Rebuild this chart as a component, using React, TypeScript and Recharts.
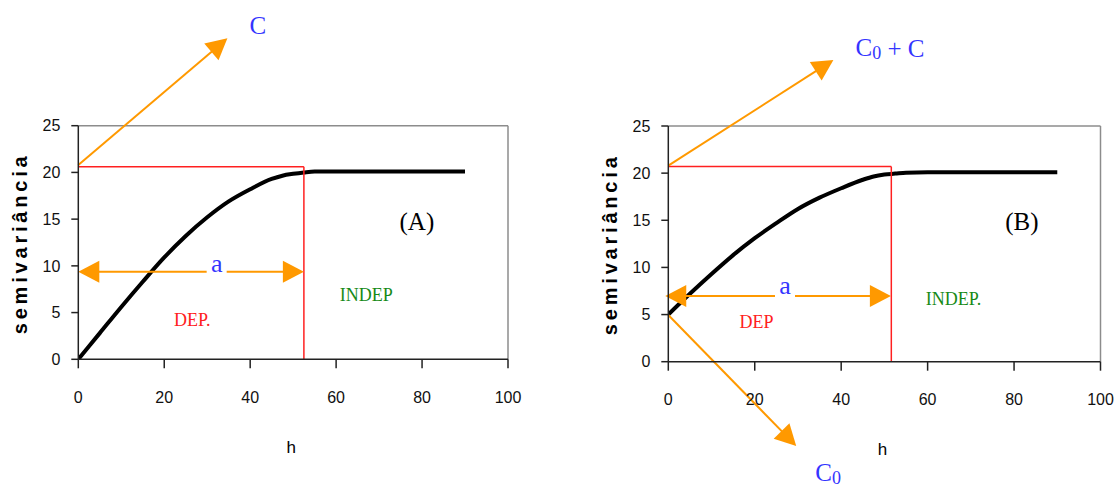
import { LineChart, Line, XAxis, YAxis, ReferenceLine, ReferenceDot } from "recharts";

// experimental semivariograms: (A) without nugget, (B) with nugget C0
const lagsA = [0, 5, 10, 15, 20, 25, 30, 35, 40, 45, 47.5, 50, 52.5, 55, 60, 70, 80, 90];
const gammaA = [0, 2.8, 5.6, 8.3, 10.9, 13.2, 15.2, 16.9, 18.2, 19.3, 19.65, 19.85, 20.0, 20.1, 20.1, 20.1, 20.1, 20.1];

const lagsB = [0, 5, 10, 15, 20, 25, 30, 35, 40, 45, 47.5, 50, 52.5, 55, 60, 70, 80, 90];
const gammaB = [5, 7.2, 9.3, 11.3, 13.1, 14.7, 16.2, 17.4, 18.4, 19.3, 19.65, 19.85, 19.95, 20.05, 20.1, 20.1, 20.1, 20.1];

const xTicks = [0, 20, 40, 60, 80, 100];
const yTicks = [0, 5, 10, 15, 20, 25];

const ORANGE = "#ff9900";
const RED = "#ff2020";
const BLUE = "#3434ff";
const GREEN = "#178a17";
const SERIF = '"Liberation Serif", "Times New Roman", serif';
const SANS = '"Liberation Sans", Arial, sans-serif';

const HEAD_LEN = 21;
const HEAD_HALF = 11;

function headPoints(tx: number, ty: number, ux: number, uy: number) {
  const bx = tx - ux * HEAD_LEN;
  const by = ty - uy * HEAD_LEN;
  return `${tx},${ty} ${bx - uy * HEAD_HALF},${by + ux * HEAD_HALF} ${bx + uy * HEAD_HALF},${by - ux * HEAD_HALF}`;
}

function Arrow({ x1, y1, x2, y2, both }: any) {
  const d = Math.hypot(x2 - x1, y2 - y1) || 1;
  const ux = (x2 - x1) / d;
  const uy = (y2 - y1) / d;
  const back = HEAD_LEN - 3;
  const sx = both ? x1 + ux * back : x1;
  const sy = both ? y1 + uy * back : y1;
  return (
    <g>
      <line x1={sx} y1={sy} x2={x2 - ux * back} y2={y2 - uy * back} stroke={ORANGE} strokeWidth={2} />
      <polygon points={headPoints(x2, y2, ux, uy)} fill={ORANGE} />
      {both && <polygon points={headPoints(x1, y1, -ux, -uy)} fill={ORANGE} />}
    </g>
  );
}

const textAt =
  (content: React.ReactNode, size: number, fill: string, family = SERIF, gap = false) =>
  (p: any) =>
    (
      <g>
        {gap && <rect x={p.cx - 10} y={p.cy - 14} width={20} height={28} fill="#fff" />}
        <text
          x={p.cx}
          y={p.cy}
          textAnchor="middle"
          dominantBaseline="central"
          fontFamily={family}
          fontSize={size}
          fill={fill}
        >
          {content}
        </text>
      </g>
    );

// rotated, spaced-out axis title
const yTitle = (p: any) => (
  <g transform={`translate(${p.cx} ${p.cy}) rotate(-90)`}>
    <text
      x={1.9}
      y={0}
      textAnchor="middle"
      dominantBaseline="central"
      fontFamily={SANS}
      fontWeight="bold"
      fontSize={20}
      letterSpacing={3.8}
      fill="#000"
    >
      semivariância
    </text>
  </g>
);

type Note = { x: number; y: number; shape: (p: any) => React.ReactElement };
type Seg = { from: [number, number]; to: [number, number]; both?: boolean };

interface VariogramProps {
  lags: number[];
  gamma: number[];
  range: number;
  boxTop: number;
  arrows: Seg[];
  notes: Note[];
  margin: { top: number; right: number; bottom: number; left: number };
}

function xTitle(p: any) {
  const vb = p.viewBox;
  return (
    <text
      x={vb.x + vb.width / 2 - 2}
      y={vb.y + 88}
      textAnchor="middle"
      dominantBaseline="central"
      fontFamily={SANS}
      fontSize={17}
      fill="#000"
    >
      h
    </text>
  );
}

function Variogram({ lags, gamma, range, boxTop, arrows, notes, margin }: VariogramProps) {
  const data = lags.map((h, i) => ({ h, g: gamma[i] }));
  const tick = { fontSize: 16, fill: "#111", fontFamily: SANS };
  return (
    <LineChart width={560} height={491} data={data} margin={margin}>
      <XAxis
        dataKey="h"
        type="number"
        domain={[0, 100]}
        ticks={xTicks}
        interval={0}
        allowDataOverflow
        height={100}
        tick={tick}
        tickSize={9}
        tickMargin={23}
        axisLine={{ stroke: "#222", strokeWidth: 1.5 }}
        tickLine={{ stroke: "#222", strokeWidth: 1.5 }}
        label={xTitle}
      />
      <YAxis
        type="number"
        domain={[0, 25]}
        ticks={yTicks}
        interval={0}
        allowDataOverflow
        width={60}
        tick={tick}
        tickSize={7}
        tickMargin={11}
        axisLine={{ stroke: "#222", strokeWidth: 1.5 }}
        tickLine={{ stroke: "#222", strokeWidth: 1.5 }}
      />
      {/* plot frame, top and right */}
      <ReferenceLine y={25} stroke="#8c8c8c" strokeWidth={1.5} ifOverflow="visible" />
      <ReferenceLine x={100} stroke="#8c8c8c" strokeWidth={1.5} ifOverflow="visible" />
      <Line
        dataKey="g"
        type="monotone"
        stroke="#000"
        strokeWidth={4}
        dot={false}
        isAnimationActive={false}
      />
      {/* sill / range box */}
      <ReferenceLine
        segment={[{ x: 0, y: boxTop }, { x: range, y: boxTop }]}
        stroke={RED}
        strokeWidth={1.5}
        ifOverflow="visible"
      />
      <ReferenceLine
        segment={[{ x: range, y: boxTop }, { x: range, y: 0 }]}
        stroke={RED}
        strokeWidth={1.5}
        ifOverflow="visible"
      />
      {arrows.map((a, i) => (
        <ReferenceLine
          key={`arrow-${i}`}
          segment={[{ x: a.from[0], y: a.from[1] }, { x: a.to[0], y: a.to[1] }]}
          ifOverflow="visible"
          shape={(p: any) => <Arrow {...p} both={a.both} />}
        />
      ))}
      {notes.map((n, i) => (
        <ReferenceDot key={`note-${i}`} x={n.x} y={n.y} r={0} ifOverflow="visible" shape={n.shape} />
      ))}
    </LineChart>
  );
}

export default function App() {
  return (
    <div style={{ position: "absolute", left: 0, top: 0, width: 1120, height: 491, background: "#fff" }}>
      <div style={{ position: "absolute", left: 0, top: 0 }}>
        <Variogram
          lags={lagsA}
          gamma={gammaA}
          range={52.5}
          boxTop={20.6}
          margin={{ top: 125.7, right: 52, bottom: 31.7, left: 18.3 }}
          arrows={[
            { from: [0, 20.8], to: [34.7, 34.35] },
            { from: [0, 9.37], to: [52.5, 9.37], both: true },
          ]}
          notes={[
            { x: -13.57, y: 12.2, shape: yTitle },
            { x: 41.8, y: 35.7, shape: textAt("C", 25, BLUE) },
            { x: 32.2, y: 10.3, shape: textAt("a", 26, BLUE, SERIF, true) },
            { x: 26.5, y: 4.2, shape: textAt("DEP.", 18, RED) },
            { x: 67.0, y: 6.9, shape: textAt("INDEP", 18, GREEN) },
            { x: 78.8, y: 14.8, shape: textAt("(A)", 25, "#000") },
          ]}
        />
      </div>
      <div style={{ position: "absolute", left: 560, top: 0 }}>
        <Variogram
          lags={lagsB}
          gamma={gammaB}
          range={51.6}
          boxTop={20.7}
          margin={{ top: 126, right: 19.5, bottom: 29.3, left: 48.3 }}
          arrows={[
            { from: [0, 20.8], to: [38.2, 32.0] },
            { from: [0, 4.95], to: [29.6, -8.94] },
            { from: [-0.7, 6.97], to: [51.5, 6.97], both: true },
          ]}
          notes={[
            { x: -13.5, y: 12.25, shape: yTitle },
            {
              x: 51.3,
              y: 33.3,
              shape: textAt(
                <>
                  C<tspan fontSize={18} dy={5}>0</tspan>
                  <tspan dy={-5}> + C</tspan>
                </>,
                25,
                BLUE
              ),
            },
            {
              x: 37.0,
              y: -11.8,
              shape: textAt(
                <>
                  C<tspan fontSize={18} dy={5}>0</tspan>
                </>,
                25,
                BLUE
              ),
            },
            { x: 27.0, y: 8.1, shape: textAt("a", 26, BLUE, SERIF, true) },
            { x: 20.4, y: 4.2, shape: textAt("DEP", 18, RED) },
            { x: 66.0, y: 6.6, shape: textAt("INDEP.", 18, GREEN) },
            { x: 81.8, y: 14.9, shape: textAt("(B)", 25, "#000") },
          ]}
        />
      </div>
    </div>
  );
}
